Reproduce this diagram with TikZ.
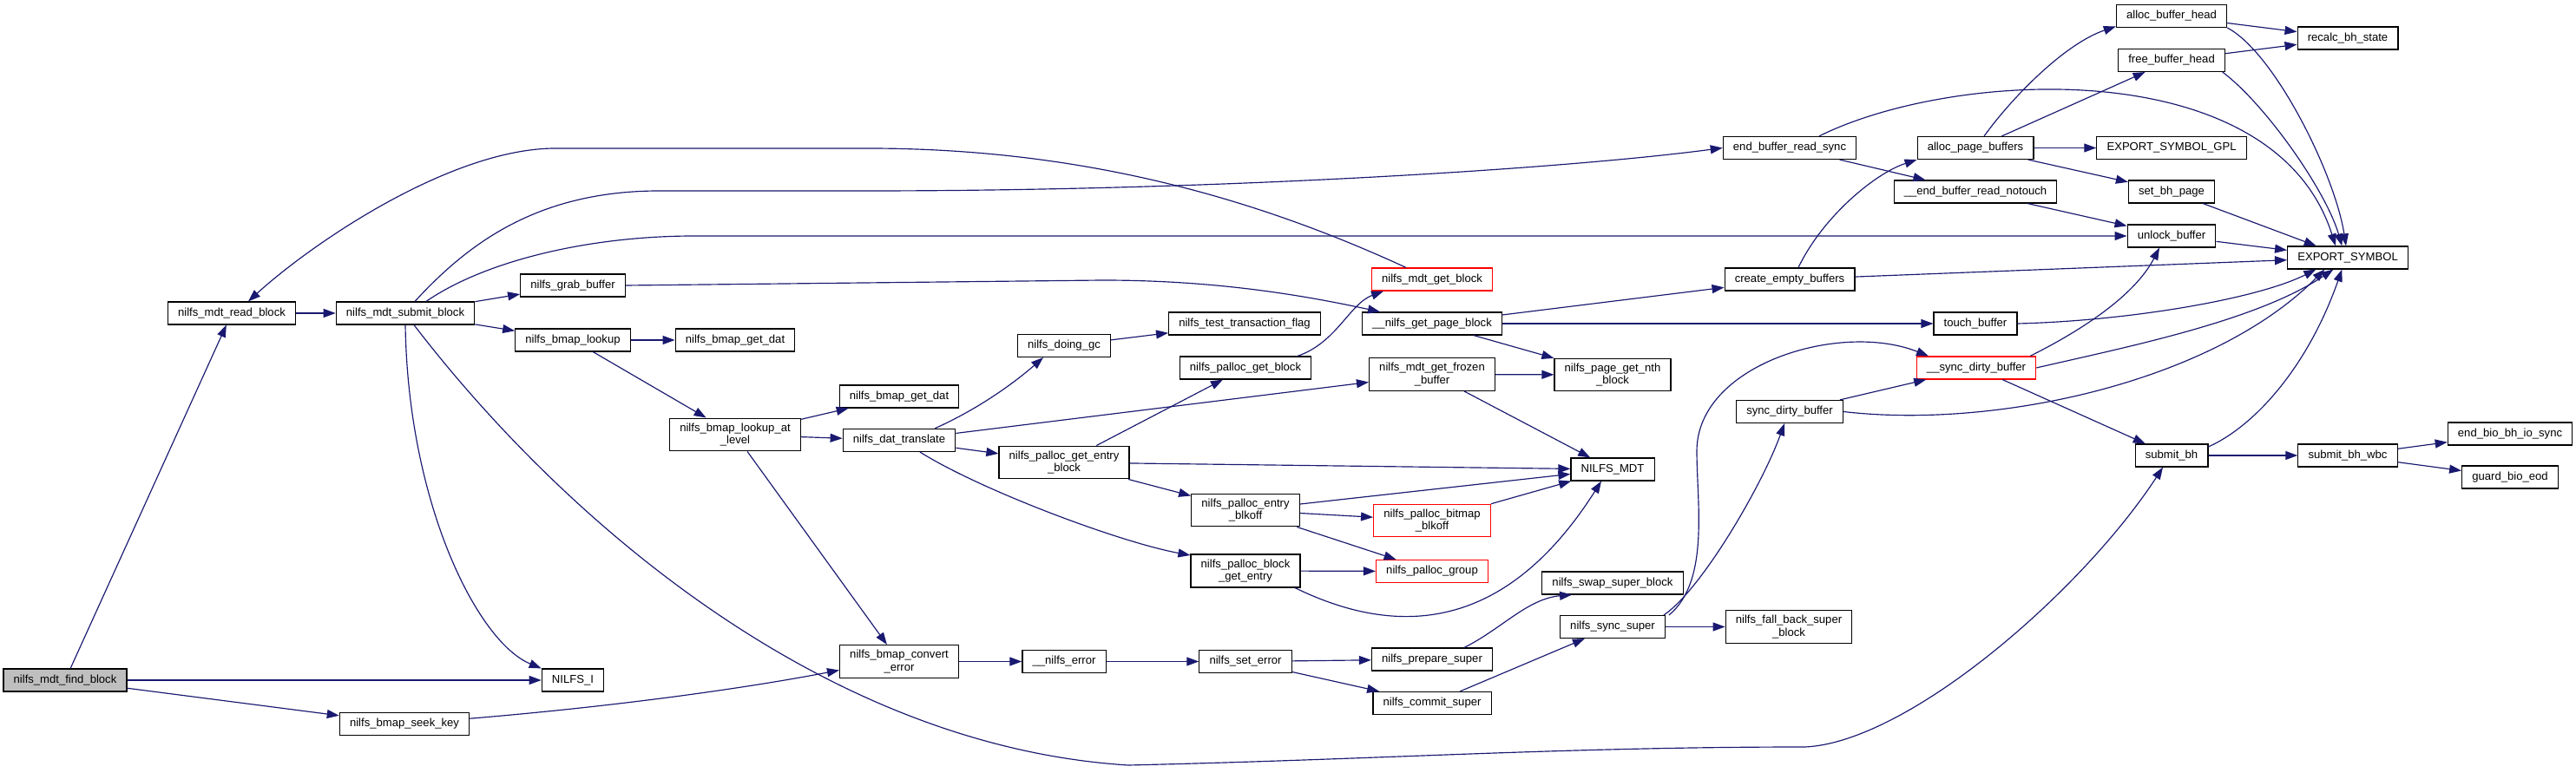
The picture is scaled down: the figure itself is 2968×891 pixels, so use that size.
\documentclass[tikz,border=0pt]{standalone}
\usepackage{fontspec}
\setmainfont{Liberation Sans}
\usetikzlibrary{arrows.meta}
\definecolor{edgeblue}{HTML}{191970}
\newcommand{\fnfont}{\fontsize{3.93pt}{4.3pt}\selectfont}

\begin{document}
\begin{tikzpicture}[
  x=0.3pt, y=-0.3pt,
  fn/.style={draw=black,fill=white,line width=0.35pt,inner xsep=3.5pt,inner ysep=1.7pt,minimum height=7.8pt,align=center,font=\fnfont},
  fnred/.style={fn,draw=red},
  fnroot/.style={fn,fill=black!25},
  arr/.style={-{Triangle[length=4.2pt,width=3pt]},draw=edgeblue,line width=0.35pt}
]
\useasboundingbox[fill=white] (0,0) rectangle (2968,891);

\node[fnroot] (root) at (75,784) {nilfs\_mdt\_find\_block};
\node[fn] (readblk) at (267,361) {nilfs\_mdt\_read\_block};
\node[fn] (submitblk) at (467,361) {nilfs\_mdt\_submit\_block};
\node[fn] (seekkey) at (466,834.5) {nilfs\_bmap\_seek\_key};
\node[fn] (grabbuf) at (660,329) {nilfs\_grab\_buffer};
\node[fn] (bmaplookup) at (660,392) {nilfs\_bmap\_lookup};
\node[fn] (nilfsi) at (660,784) {NILFS\_I};
\node[fn] (getdatA) at (847,392) {nilfs\_bmap\_get\_dat};
\node[fn] (lookuplvl) at (847,501) {nilfs\_bmap\_lookup\_at\\\_level};
\node[fn] (getdatB) at (1036,457) {nilfs\_bmap\_get\_dat};
\node[fn] (dattrans) at (1036,507.5) {nilfs\_dat\_translate};
\node[fn] (converr) at (1036,762.5) {nilfs\_bmap\_convert\\\_error};
\node[fn] (doinggc) at (1226,398.5) {nilfs\_doing\_gc};
\node[fn] (entryblk) at (1226,533) {nilfs\_palloc\_get\_entry\\\_block};
\node[fn] (nerror) at (1226,762.5) {\_\_nilfs\_error};
\node[fn] (testflag) at (1434,373) {nilfs\_test\_transaction\_flag};
\node[fn] (pgetblk) at (1435,424) {nilfs\_palloc\_get\_block};
\node[fn] (entryoff) at (1435,588) {nilfs\_palloc\_entry\\\_blkoff};
\node[fn] (blkentry) at (1435,658) {nilfs\_palloc\_block\\\_get\_entry};
\node[fn] (seterr) at (1435,762.5) {nilfs\_set\_error};
\node[fnred] (mdtgetblk) at (1650,322) {nilfs\_mdt\_get\_block};
\node[fn] (getpage) at (1650,373) {\_\_nilfs\_get\_page\_block};
\node[fn] (frozen) at (1650,431.5) {nilfs\_mdt\_get\_frozen\\\_buffer};
\node[fnred] (bitmapoff) at (1650,600) {nilfs\_palloc\_bitmap\\\_blkoff};
\node[fnred] (pgroup) at (1650,658.5) {nilfs\_palloc\_group};
\node[fn] (prepsuper) at (1650,760) {nilfs\_prepare\_super};
\node[fn] (commitsuper) at (1650,810.5) {nilfs\_commit\_super};
\node[fn] (nthblk) at (1858,432) {nilfs\_page\_get\_nth\\\_block};
\node[fn] (nilfsmdt) at (1858,541) {NILFS\_MDT};
\node[fn] (swapsuper) at (1858,672) {nilfs\_swap\_super\_block};
\node[fn] (syncsuper) at (1858,722.5) {nilfs\_sync\_super};
\node[fn] (readsync) at (2062,170.5) {end\_buffer\_read\_sync};
\node[fn] (emptybufs) at (2062,322) {create\_empty\_buffers};
\node[fn] (syncdirty) at (2062,474.5) {sync\_dirty\_buffer};
\node[fn] (fallback) at (2061,722.5) {nilfs\_fall\_back\_super\\\_block};
\node[fn] (allocpages) at (2276,170.5) {alloc\_page\_buffers};
\node[fn] (notouch) at (2276,221) {\_\_end\_buffer\_read\_notouch};
\node[fn] (touchbuf) at (2276,373) {touch\_buffer};
\node[fnred] (usyncdirty) at (2277,424) {\_\_sync\_dirty\_buffer};
\node[fn] (allochead) at (2502,18.5) {alloc\_buffer\_head};
\node[fn] (freehead) at (2502,69.5) {free\_buffer\_head};
\node[fn] (expgpl) at (2502,170.5) {EXPORT\_SYMBOL\_GPL};
\node[fn] (setbhpage) at (2502,221) {set\_bh\_page};
\node[fn] (unlockbuf) at (2502,272) {unlock\_buffer};
\node[fn] (submitbh) at (2502,525) {submit\_bh};
\node[fn] (recalc) at (2705,44) {recalc\_bh\_state};
\node[fn] (expsym) at (2705,297) {EXPORT\_SYMBOL};
\node[fn] (bhwbc) at (2705,525) {submit\_bh\_wbc};
\node[fn] (endbio) at (2892,500) {end\_bio\_bh\_io\_sync};
\node[fn] (guardeod) at (2892,550) {guard\_bio\_eod};

\draw[arr] (root) -- (readblk);
\draw[arr] (root) -- (nilfsi);
\draw[arr] (root) -- (seekkey);
\draw[arr] (readblk) -- (submitblk);
\draw[arr] ([xshift=-9pt]mdtgetblk.north) .. controls (1450,230) and (1250,171) .. (1000,171)
  -- (640,171) .. controls (520,171) and (360,280) .. ([xshift=5.7pt]readblk.north);
\draw[arr] ([xshift=3.3pt]submitblk.north) .. controls (540,280) and (620,220) .. (760,220)
  -- (1000,220) .. controls (1400,220) and (1800,195) .. (readsync.west);
\draw[arr] ([xshift=7.2pt]submitblk.north) .. controls (560,300) and (680,272) .. (800,272) -- (unlockbuf.west);
\draw[arr] (submitblk) -- (grabbuf);
\draw[arr] (submitblk) -- (bmaplookup);
\draw[arr] (submitblk.south) .. controls (470,580) and (550,740) .. (nilfsi.north west);
\draw[arr] ([xshift=3pt]submitblk.south) .. controls (650,600) and (950,860) .. (1300,882)
  .. controls (1600,875) and (1800,861) .. (2080,861)
  .. controls (2200,855) and (2400,680) .. ([xshift=-3pt]submitbh.south);
\draw[arr] (grabbuf.east) -- (1270,323) .. controls (1400,323) and (1500,340) .. ([xshift=-18pt]getpage.north);
\draw[arr] (bmaplookup) -- (getdatA);
\draw[arr] (bmaplookup) -- (lookuplvl);
\draw[arr] (lookuplvl) -- (getdatB);
\draw[arr] (lookuplvl) -- (dattrans);
\draw[arr] (lookuplvl) -- (converr);
\draw[arr] (seekkey) .. controls (700,815) and (850,795) .. ([yshift=-3pt]converr.west);
\draw[arr] ([xshift=12.3pt]dattrans.north) .. controls (1130,470) and (1170,440) .. ([xshift=-7.2pt]doinggc.south);
\draw[arr] (dattrans) -- (frozen);
\draw[arr] (dattrans) -- (entryblk);
\draw[arr] ([xshift=7.2pt]dattrans.south) .. controls (1130,565) and (1290,625) .. ([yshift=5.4pt]blkentry.west);
\draw[arr] (doinggc) -- (testflag);
\draw[arr] (entryblk) -- (pgetblk);
\draw[arr] (entryblk) -- (nilfsmdt);
\draw[arr] (entryblk) -- (entryoff);
\draw[arr] ([xshift=18pt]pgetblk.north) .. controls (1540,395) and (1555,350) .. ([xshift=-16.8pt]mdtgetblk.south);
\draw[arr] (getpage) -- (emptybufs);
\draw[arr] (getpage) -- (touchbuf);
\draw[arr] (getpage) -- (nthblk);
\draw[arr] (frozen) -- (nthblk);
\draw[arr] (frozen) -- (nilfsmdt);
\draw[arr] (entryoff) -- (nilfsmdt);
\draw[arr] (entryoff) -- (bitmapoff);
\draw[arr] (entryoff) -- (pgroup);
\draw[arr] (bitmapoff) -- (nilfsmdt);
\draw[arr] (blkentry) -- (pgroup);
\draw[arr] ([xshift=17.1pt]blkentry.south) .. controls (1620,740) and (1740,720) .. ([xshift=-3.9pt]nilfsmdt.south);
\draw[arr] (converr) -- (nerror);
\draw[arr] (nerror) -- (seterr);
\draw[arr] (seterr) -- (prepsuper);
\draw[arr] (seterr) -- (commitsuper);
\draw[arr] ([xshift=11.1pt]prepsuper.north) .. controls (1730,725) and (1760,690) .. ([xshift=-14.1pt]swapsuper.south);
\draw[arr] (commitsuper) -- (syncsuper);
\draw[arr] ([xshift=17.7pt]syncsuper.north) .. controls (1960,680) and (2030,560) .. ([xshift=-1.8pt]syncdirty.south);
\draw[arr] ([xshift=19.5pt]syncsuper.north) .. controls (1970,670) and (1955,580) .. (1955,520)
  .. controls (1955,420) and (2120,370) .. ([xshift=-16.5pt]usyncdirty.north);
\draw[arr] (syncsuper) -- (fallback);
\draw[arr] (syncdirty) -- (usyncdirty);
\draw[arr] (syncdirty.east) .. controls (2300,495) and (2550,440) .. ([xshift=-8pt]expsym.south);
\draw[arr] (usyncdirty.east) .. controls (2450,400) and (2600,370) .. ([xshift=-5pt]expsym.south);
\draw[arr] ([xshift=18.6pt]usyncdirty.north) .. controls (2400,380) and (2460,340) .. ([xshift=-4.2pt]unlockbuf.south);
\draw[arr] (usyncdirty) -- (submitbh);
\draw[arr] ([yshift=3pt]submitbh.east) .. controls (2600,490) and (2660,420) .. ([xshift=-2pt]expsym.south);
\draw[arr] (submitbh) -- (bhwbc);
\draw[arr] (bhwbc) -- (endbio);
\draw[arr] (bhwbc) -- (guardeod);
\draw[arr] ([xshift=10.2pt]readsync.north) .. controls (2250,80) and (2620,60) .. ([xshift=-4.2pt]expsym.north);
\draw[arr] (readsync) -- (notouch);
\draw[arr] ([xshift=3pt]allocpages.north) .. controls (2320,110) and (2380,50) .. ([yshift=-3.6pt]allochead.west);
\draw[arr] (allocpages) -- (freehead);
\draw[arr] (allocpages) -- (expgpl);
\draw[arr] (allocpages) -- (setbhpage);
\draw[arr] (notouch) -- (unlockbuf);
\draw[arr] ([xshift=3pt]emptybufs.north) .. controls (2100,250) and (2160,200) .. (allocpages.south west);
\draw[arr] (emptybufs) -- (expsym);
\draw[arr] (touchbuf.east) .. controls (2450,370) and (2600,345) .. ([xshift=-11pt]expsym.south);
\draw[arr] (unlockbuf) -- (expsym);
\draw[arr] (setbhpage) -- (expsym);
\draw[arr] (allochead) -- (recalc);
\draw[arr] (allochead.south east) .. controls (2620,60) and (2690,200) .. ([xshift=-0.6pt]expsym.north);
\draw[arr] (freehead) -- (recalc);
\draw[arr] ([xshift=-1pt]freehead.south east) .. controls (2610,120) and (2680,220) .. ([xshift=-2pt]expsym.north);
\end{tikzpicture}
\end{document}
